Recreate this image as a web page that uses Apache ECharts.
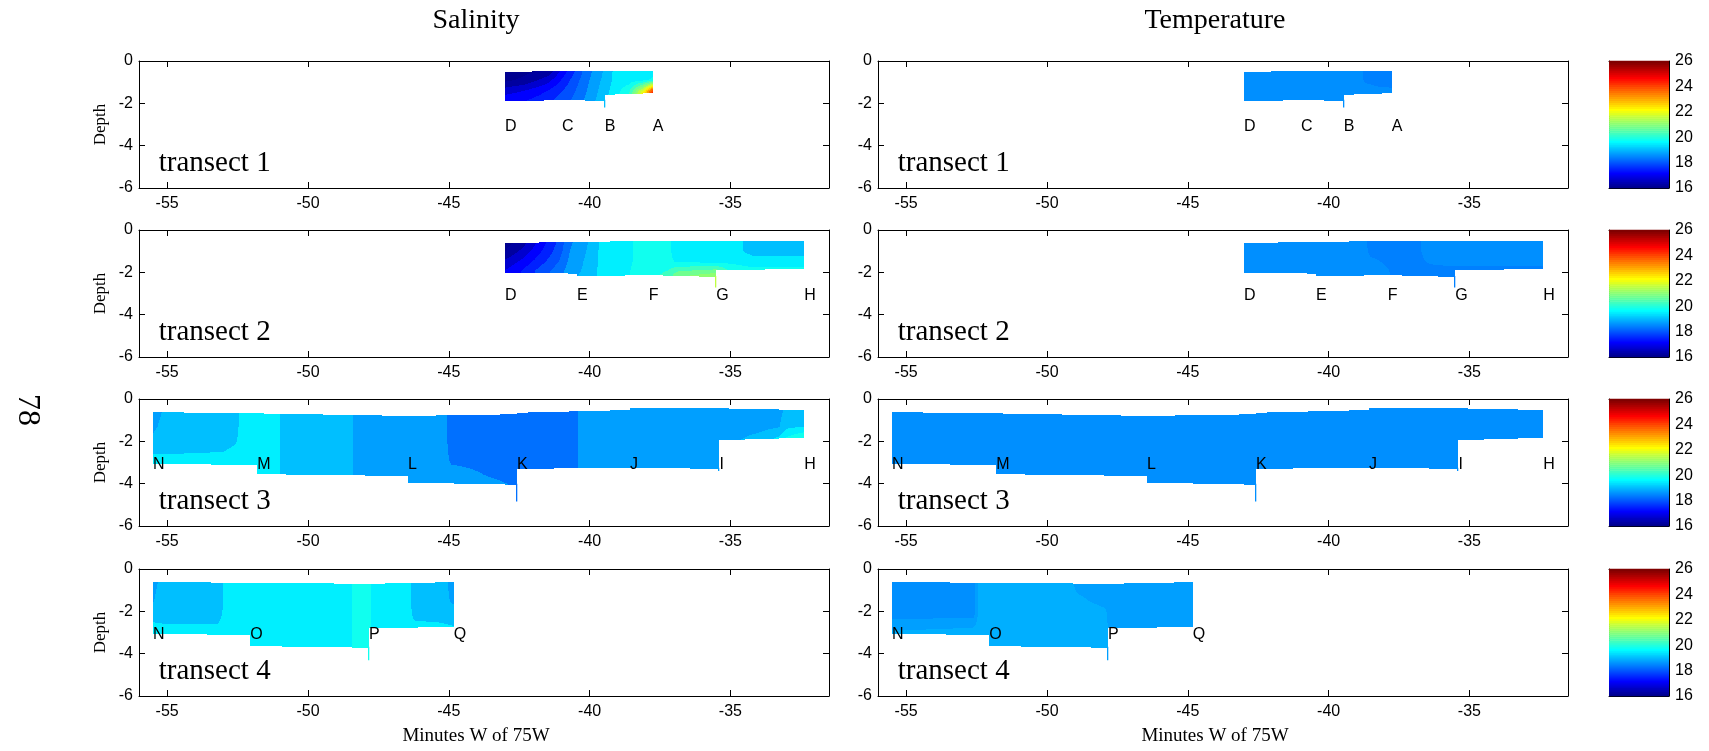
<!DOCTYPE html>
<html>
<head>
<meta charset="utf-8">
<script src="https://cdn.jsdelivr.net/npm/echarts@6/dist/echarts.min.js"></script>
<style>
html, body { margin: 0; padding: 0; background: #fff; }
#chart { width: 1709px; height: 751px; }
</style>
</head>
<body>
<div id="chart"></div>
<script>
// ---------- axes ----------
const xTicks = [-55, -50, -45, -40, -35];
const xRange = [-56, -31.5];
const depthRange = [-6, 0];
const colorRange = [16, 26];
const labelDepth = -3.1;           // depth of the station letters
const transectLabelPos = [-55.3, -4.85];

// ---------- station geometry ----------
// per interval between neighbouring stations: [depth at left station, depth at right station]
const t1Names = ['D', 'C', 'B', 'A'];
const t1X = [-43, -40.98, -39.46, -37.76];
const t1Top = [[-0.52, -0.47], [-0.47, -0.47], [-0.47, -0.47]];
const t1Bottom = [[-1.9, -1.85], [-1.85, -1.88], [-1.6, -1.52]];
const t1Cast = [null, null, -2.2, null];

const t2Names = ['D', 'E', 'F', 'G', 'H'];
const t2X = [-43, -40.45, -37.9, -35.5, -32.38];
const t2Top = [[-0.6, -0.58], [-0.58, -0.5], [-0.5, -0.5], [-0.5, -0.5]];
const t2Bottom = [[-2.02, -2.06], [-2.19, -2.13], [-2.13, -2.22], [-1.91, -1.83]];
const t2Cast = [null, null, null, -2.72, null];

const t3Names = ['N', 'M', 'L', 'K', 'J', 'I', 'H'];
const t3X = [-55.5, -51.8, -46.45, -42.58, -38.57, -35.39, -32.38];
const t3Top = [[-0.62, -0.68], [-0.68, -0.8], [-0.8, -0.72], [-0.65, -0.52], [-0.44, -0.44], [-0.44, -0.52]];
const t3Bottom = [[-3.05, -3.13], [-3.55, -3.64], [-3.95, -4.05], [-3.3, -3.25], [-3.25, -3.3], [-1.95, -1.83]];
const t3Cast = [null, null, null, -4.84, null, -3.4, null];

const t4Names = ['N', 'O', 'P', 'Q'];
const t4X = [-55.5, -52.05, -47.83, -44.82];
const t4Top = [[-0.62, -0.65], [-0.65, -0.7], [-0.7, -0.62]];
const t4Bottom = [[-3.05, -3.13], [-3.64, -3.72], [-2.81, -2.73]];
const t4Cast = [null, null, -4.31, null];

// ---------- gridded salinity / temperature (rows = depth levels, columns = x nodes) ----------
const sal1X = [-43, -42.3, -41.5, -40.7, -40.1, -39.6, -39.1, -38.6, -38.1, -37.7];
const sal1Depth = [-0.4, -0.9, -1.4, -1.9, -2.3];
const sal1Val = [
  [16.0, 16.15, 16.3, 17.6, 18.5, 19.0, 19.6, 19.7, 19.7, 19.7],
  [16.2, 16.4, 16.9, 17.9, 18.6, 19.1, 19.6, 19.7, 19.8, 20.0],
  [16.9, 17.1, 17.5, 18.1, 18.7, 19.2, 19.7, 20.2, 22.0, 24.6],
  [17.4, 17.5, 17.8, 18.3, 18.8, 19.3, 19.8, 20.6, 23.5, 26.0],
  [17.4, 17.5, 17.8, 18.3, 18.8, 19.3, 19.8, 20.6, 23.5, 26.0]
];
const tem1X = [-43, -39.0, -38.7, -38.3, -37.7];
const tem1Depth = [-0.4, -0.9, -1.4, -1.9, -2.3];
const tem1Val = [
  [18.6, 18.6, 18.46, 18.44, 18.44],
  [18.6, 18.6, 18.47, 18.44, 18.44],
  [18.6, 18.6, 18.58, 18.54, 18.52],
  [18.6, 18.6, 18.6, 18.6, 18.6],
  [18.6, 18.6, 18.6, 18.6, 18.6]
];

const sal2X = [-43, -42.4, -41.8, -41.1, -40.7, -39.9, -39.6, -38.7, -38.4, -37.2, -36.9, -35.5, -35.0, -34.2, -32.3];
const sal2Depth = [-0.4, -1.0, -1.5, -1.9, -2.3, -2.8];
const sal2Val = [
  [16.0, 16.35, 17.1, 17.95, 18.6, 19.2, 19.6, 19.7, 19.95, 20.0, 19.7, 19.7, 19.7, 19.35, 19.35],
  [16.3, 16.8, 17.4, 18.1, 18.7, 19.25, 19.6, 19.7, 19.95, 20.0, 19.7, 19.7, 19.7, 19.35, 19.35],
  [16.8, 17.2, 17.7, 18.3, 18.8, 19.3, 19.6, 19.75, 19.95, 20.0, 19.85, 19.8, 19.8, 19.7, 19.7],
  [17.1, 17.5, 18.0, 18.5, 18.9, 19.3, 19.65, 19.8, 20.0, 20.3, 20.6, 20.8, 20.2, 20.0, 20.0],
  [17.2, 17.6, 18.1, 18.6, 19.0, 19.35, 19.7, 19.85, 20.0, 20.5, 21.2, 21.7, 20.4, 20.1, 20.1],
  [17.2, 17.6, 18.1, 18.6, 19.0, 19.35, 19.7, 19.85, 20.0, 20.5, 21.2, 21.7, 20.4, 20.1, 20.1]
];
const tem2X = [-43, -38.9, -38.5, -37.6, -36.9, -36.4, -35.5, -32.3];
const tem2Depth = [-0.4, -1.0, -1.5, -1.9, -2.3, -2.8];
const tem2Val = [
  [18.6, 18.6, 18.45, 18.45, 18.45, 18.6, 18.6, 18.6],
  [18.6, 18.6, 18.46, 18.45, 18.45, 18.58, 18.6, 18.6],
  [18.6, 18.6, 18.53, 18.45, 18.45, 18.52, 18.55, 18.55],
  [18.6, 18.6, 18.6, 18.46, 18.45, 18.45, 18.46, 18.46],
  [18.6, 18.6, 18.6, 18.48, 18.45, 18.45, 18.45, 18.45],
  [18.6, 18.6, 18.6, 18.48, 18.45, 18.45, 18.45, 18.45]
];

const sal3X = [-55.6, -55.0, -53.0, -52.6, -52.2, -51.1, -50.9, -48.5, -48.3, -45.2, -44.9, -43.6, -42.6, -40.5, -40.3, -35.4, -34.0, -33.3, -33.0, -32.3];
const sal3Depth = [-0.4, -1.3, -2.0, -2.5, -3.0, -3.5, -4.0, -4.9];
const sal3Val = [
  [18.8, 19.2, 19.3, 19.4, 19.7, 19.7, 19.3, 19.3, 18.9, 18.9, 18.5, 18.5, 18.5, 18.5, 18.9, 18.9, 18.9, 18.9, 19.2, 19.3],
  [18.95, 19.3, 19.3, 19.4, 19.7, 19.7, 19.3, 19.3, 18.9, 18.9, 18.5, 18.5, 18.5, 18.5, 18.9, 18.9, 18.95, 19.05, 19.4, 19.5],
  [19.2, 19.3, 19.35, 19.45, 19.7, 19.7, 19.3, 19.3, 18.9, 18.9, 18.5, 18.5, 18.5, 18.5, 18.9, 18.9, 19.3, 19.7, 20.1, 20.6],
  [19.45, 19.45, 19.5, 19.6, 19.7, 19.7, 19.3, 19.3, 18.9, 18.9, 18.55, 18.5, 18.5, 18.5, 18.9, 18.9, 19.3, 19.7, 20.1, 20.6],
  [19.7, 19.7, 19.7, 19.75, 19.7, 19.7, 19.3, 19.3, 18.9, 18.9, 18.65, 18.55, 18.5, 18.5, 18.9, 18.9, 19.3, 19.7, 20.1, 20.6],
  [19.7, 19.7, 19.7, 19.75, 19.7, 19.7, 19.3, 19.3, 18.9, 18.9, 18.9, 18.65, 18.55, 18.5, 18.9, 18.9, 19.3, 19.7, 20.1, 20.6],
  [19.7, 19.7, 19.7, 19.75, 19.7, 19.7, 19.3, 19.3, 18.9, 18.9, 18.9, 18.8, 18.65, 18.5, 18.9, 18.9, 19.3, 19.7, 20.1, 20.6],
  [19.7, 19.7, 19.7, 19.75, 19.7, 19.7, 19.3, 19.3, 18.9, 18.9, 18.9, 18.9, 18.7, 18.5, 18.9, 18.9, 19.3, 19.7, 20.1, 20.6]
];
const tem3X = [-56, -32];
const tem3Depth = [-0.3, -5];
const tem3Val = [
  [18.58, 18.58],
  [18.58, 18.58]
];

const sal4X = [-55.6, -55.2, -53.2, -52.8, -48.6, -48.4, -47.8, -47.6, -46.5, -46.2, -45.3, -44.8];
const sal4Depth = [-0.5, -1.5, -2.2, -2.7, -3.2, -3.8, -4.4];
const sal4Val = [
  [18.85, 19.2, 19.3, 19.7, 19.7, 19.95, 19.95, 19.7, 19.7, 19.3, 19.3, 18.9],
  [19.0, 19.3, 19.3, 19.7, 19.7, 19.95, 19.95, 19.7, 19.7, 19.3, 19.3, 19.0],
  [19.35, 19.35, 19.4, 19.7, 19.7, 19.95, 19.95, 19.7, 19.7, 19.4, 19.4, 19.35],
  [19.6, 19.55, 19.52, 19.7, 19.7, 19.95, 19.95, 19.7, 19.7, 19.6, 19.55, 19.5],
  [19.7, 19.7, 19.7, 19.7, 19.7, 19.95, 19.95, 19.7, 19.7, 19.7, 19.7, 19.7],
  [19.7, 19.7, 19.7, 19.7, 19.7, 19.95, 19.95, 19.7, 19.7, 19.7, 19.7, 19.7],
  [19.7, 19.7, 19.7, 19.7, 19.7, 19.95, 19.95, 19.7, 19.7, 19.7, 19.7, 19.7]
];
const tem4X = [-55.6, -52.6, -52.4, -49.3, -48.9, -48.2, -47.95, -47.75, -44.8];
const tem4Depth = [-0.5, -1.5, -2.2, -2.7, -3.2, -3.8, -4.4];
const tem4Val = [
  [18.58, 18.58, 18.9, 18.9, 18.73, 18.73, 18.73, 18.73, 18.73],
  [18.58, 18.58, 18.9, 18.9, 18.85, 18.78, 18.75, 18.73, 18.73],
  [18.6, 18.62, 18.9, 18.9, 18.9, 18.9, 18.88, 18.73, 18.73],
  [18.75, 18.8, 18.9, 18.9, 18.9, 18.9, 18.9, 18.73, 18.73],
  [18.9, 18.9, 18.9, 18.9, 18.9, 18.9, 18.9, 18.73, 18.73],
  [18.9, 18.9, 18.9, 18.9, 18.9, 18.9, 18.9, 18.73, 18.73],
  [18.9, 18.9, 18.9, 18.9, 18.9, 18.9, 18.9, 18.73, 18.73]
];

// contour levels: salinity every 0.4, temperature at colormap resolution
const salLevels = { base: 16.3, step: 0.4 };
const temLevels = { base: 16, step: 10 / 64 };

// ---------- helpers ----------
const SANS = '"Liberation Sans", Arial, Helvetica, sans-serif';
const SERIF = '"Liberation Serif", "Times New Roman", Times, serif';

// MATLAB-style jet colormap
function jetMap(m) {
  const n = Math.ceil(m / 4);
  const u = [];
  for (let i = 1; i <= n; i++) u.push(i / n);
  for (let i = 1; i < n; i++) u.push(1);
  for (let i = n; i >= 1; i--) u.push(i / n);
  const g0 = Math.ceil(n / 2) - (m % 4 === 1 ? 1 : 0);
  const r = new Array(m).fill(0), g = new Array(m).fill(0), b = new Array(m).fill(0);
  u.forEach((val, k) => {
    const gi = g0 + k + 1;
    if (gi <= m) g[gi - 1] = val;
    if (gi + n <= m) r[gi + n - 1] = val;
    if (gi - n >= 1) b[gi - n - 1] = val;
  });
  return r.map((_, i) => 'rgb(' + Math.round(r[i] * 255) + ',' + Math.round(g[i] * 255) + ',' + Math.round(b[i] * 255) + ')');
}
const jet = jetMap(64);

function colorIndex(v) {
  const idx = Math.floor((v - colorRange[0]) / (colorRange[1] - colorRange[0]) * jet.length + 1e-9);
  return Math.max(0, Math.min(jet.length - 1, idx));
}

function makeField(xs, ds, vals, levels) {
  function valueAt(x, d) {
    let i, tx, j, ty;
    const nx = xs.length, nd = ds.length;
    if (x <= xs[0]) { i = 0; tx = 0; }
    else if (x >= xs[nx - 1]) { i = nx - 2; tx = 1; }
    else { i = 0; while (xs[i + 1] < x) i++; tx = (x - xs[i]) / (xs[i + 1] - xs[i]); }
    if (d >= ds[0]) { j = 0; ty = 0; }
    else if (d <= ds[nd - 1]) { j = nd - 2; ty = 1; }
    else { j = 0; while (ds[j + 1] > d) j++; ty = (ds[j] - d) / (ds[j] - ds[j + 1]); }
    const a = vals[j][i] * (1 - tx) + vals[j][i + 1] * tx;
    const b = vals[j + 1][i] * (1 - tx) + vals[j + 1][i + 1] * tx;
    return a * (1 - ty) + b * ty;
  }
  function colorAt(x, d) {
    const v = valueAt(x, d);
    const level = levels.base + Math.floor((v - levels.base) / levels.step + 1e-9) * levels.step;
    return jet[colorIndex(level + 1e-9)];
  }
  return { valueAt, colorAt };
}

const transects = [
  { names: t1Names, x: t1X, top: t1Top, bottom: t1Bottom, cast: t1Cast, label: 'transect 1' },
  { names: t2Names, x: t2X, top: t2Top, bottom: t2Bottom, cast: t2Cast, label: 'transect 2' },
  { names: t3Names, x: t3X, top: t3Top, bottom: t3Bottom, cast: t3Cast, label: 'transect 3' },
  { names: t4Names, x: t4X, top: t4Top, bottom: t4Bottom, cast: t4Cast, label: 'transect 4' }
];
const fields = [
  [makeField(sal1X, sal1Depth, sal1Val, salLevels), makeField(tem1X, tem1Depth, tem1Val, temLevels)],
  [makeField(sal2X, sal2Depth, sal2Val, salLevels), makeField(tem2X, tem2Depth, tem2Val, temLevels)],
  [makeField(sal3X, sal3Depth, sal3Val, salLevels), makeField(tem3X, tem3Depth, tem3Val, temLevels)],
  [makeField(sal4X, sal4Depth, sal4Val, salLevels), makeField(tem4X, tem4Depth, tem4Val, temLevels)]
];

// ---------- layout ----------
const plotLeft = [139, 878];
const plotWidth = 690;
const rowTop = [61, 230, 399, 569];
const plotHeight = 127;
const barLeft = 1609;
const barWidth = 60;
const headingShift = -8;

// filled section, rasterised column by column through the axis scales
function fillRenderer(T, F) {
  return function (params, api) {
    const i = params.dataIndex;
    const x0 = T.x[i], x1 = T.x[i + 1];
    const a0 = T.top[i][0], a1 = T.top[i][1];
    const b0 = T.bottom[i][0], b1 = T.bottom[i][1];
    const o = api.coord([x0, 0]);
    const X0 = o[0], Y0 = o[1];
    const X1 = api.coord([x1, 0])[0];
    const unitY = api.coord([x0, -1])[1] - Y0;
    const paths = {};
    const push = (c, px, py, h) => { paths[c] = (paths[c] || '') + 'M' + px + ' ' + py + 'h1v' + h + 'h-1Z'; };
    const pxEnd = Math.round(X1);
    for (let px = Math.round(X0); px < pxEnd; px++) {
      const f = (px + 0.5 - X0) / (X1 - X0);
      const x = x0 + f * (x1 - x0);
      const top = a0 + f * (a1 - a0), bot = b0 + f * (b1 - b0);
      const yT = Math.round(Y0 - top * unitY), yB = Math.round(Y0 - bot * unitY);
      let run = null, start = yT;
      for (let py = yT; py < yB; py++) {
        const d = -(py + 0.5 - Y0) / unitY;
        const c = F.colorAt(x, d);
        if (c !== run) {
          if (run) push(run, px, start, py - start);
          run = c; start = py;
        }
      }
      if (run) push(run, px, start, yB - start);
    }
    return {
      type: 'group',
      children: Object.keys(paths).map(c => ({
        type: 'path', shape: { pathData: paths[c] }, style: { fill: c, stroke: null }
      }))
    };
  };
}

// station letters, cast lines and transect name
function annotationRenderer(T, F) {
  return function (params, api) {
    const i = params.dataIndex;
    const children = [];
    const p = api.coord([T.x[i], labelDepth]);
    children.push({
      type: 'text', x: p[0], y: p[1], z2: 5,
      style: { text: T.names[i], fill: '#000', fontSize: 16, fontFamily: SANS, align: 'left', verticalAlign: 'middle' }
    });
    if (T.cast[i] != null) {
      const left = i > 0 ? T.bottom[i - 1][1] : 0;
      const right = i < T.bottom.length ? T.bottom[i][0] : 0;
      const from = Math.min(left, right);
      const a = api.coord([T.x[i], from]);
      const b = api.coord([T.x[i], T.cast[i]]);
      children.push({
        type: 'rect',
        shape: { x: Math.round(a[0]) - 1, y: a[1] - 1, width: 1.3, height: b[1] - a[1] + 1 },
        style: { fill: F.colorAt(T.x[i], T.cast[i] + 0.05) }
      });
    }
    if (i === 0) {
      const q = api.coord(transectLabelPos);
      children.push({
        type: 'text', x: q[0], y: q[1],
        style: { text: T.label, fill: '#000', fontSize: 29, fontFamily: SERIF, align: 'left', verticalAlign: 'middle' }
      });
    }
    return { type: 'group', children };
  };
}

function colorbarRenderer(params, api) {
  const i = params.dataIndex;
  const step = (colorRange[1] - colorRange[0]) / jet.length;
  const lo = colorRange[0] + i * step, hi = lo + step;
  const p0 = api.coord([0, hi]), p1 = api.coord([1, lo]);
  return {
    type: 'rect',
    shape: { x: p0[0], y: p0[1] - 0.3, width: p1[0] - p0[0], height: p1[1] - p0[1] + 0.6 },
    style: { fill: jet[i] }
  };
}

const black = { color: '#000', width: 1 };
const grids = [], xAxes = [], yAxes = [], series = [];

for (let r = 0; r < 4; r++) {
  for (let c = 0; c < 2; c++) {
    const g = grids.length;
    grids.push({ left: plotLeft[c], top: rowTop[r], width: plotWidth, height: plotHeight, outerBoundsMode: 'none', containLabel: false });
    const bottomX = {
      gridIndex: g, type: 'value', min: xRange[0], max: xRange[1], position: 'bottom',
      axisLine: { show: true, onZero: false, lineStyle: black },
      axisTick: { show: true, inside: true, length: 6, customValues: xTicks, lineStyle: black },
      axisLabel: { show: true, customValues: xTicks, color: '#000', fontSize: 16, fontFamily: SANS, margin: 8 },
      splitLine: { show: false }
    };
    if (r === 3) {
      bottomX.name = 'Minutes W of 75W';
      bottomX.nameLocation = 'middle';
      bottomX.nameGap = 31;
      bottomX.nameTextStyle = { color: '#000', fontSize: 19, fontFamily: SERIF, padding: [0, -2 * headingShift, 0, 0] };
    }
    xAxes.push(bottomX);
    xAxes.push({
      gridIndex: g, type: 'value', min: xRange[0], max: xRange[1], position: 'top',
      axisLine: { show: true, onZero: false, lineStyle: black },
      axisTick: { show: true, inside: true, length: 6, customValues: xTicks, lineStyle: black },
      axisLabel: { show: false }, splitLine: { show: false }
    });
    const leftY = {
      gridIndex: g, type: 'value', min: depthRange[0], max: depthRange[1], interval: 2, position: 'left',
      axisLine: { show: true, onZero: false, lineStyle: black },
      axisTick: { show: true, inside: true, length: 6, lineStyle: black },
      axisLabel: { show: true, color: '#000', fontSize: 16, fontFamily: SANS, margin: 6 },
      splitLine: { show: false }
    };
    if (c === 0) {
      leftY.name = 'Depth';
      leftY.nameLocation = 'middle';
      leftY.nameRotate = 90;
      leftY.nameGap = 30;
      leftY.nameTextStyle = { color: '#000', fontSize: 17, fontFamily: SERIF };
    }
    yAxes.push(leftY);
    yAxes.push({
      gridIndex: g, type: 'value', min: depthRange[0], max: depthRange[1], interval: 2, position: 'right',
      axisLine: { show: true, onZero: false, lineStyle: black },
      axisTick: { show: true, inside: true, length: 6, lineStyle: black },
      axisLabel: { show: false }, splitLine: { show: false }
    });
    const T = transects[r], F = fields[r][c];
    series.push({
      type: 'custom', coordinateSystem: 'cartesian2d', xAxisIndex: 2 * g, yAxisIndex: 2 * g,
      data: T.top.map((t, i) => [T.x[i], t[0]]),
      renderItem: fillRenderer(T, F), silent: true, z: 2
    });
    series.push({
      type: 'custom', coordinateSystem: 'cartesian2d', xAxisIndex: 2 * g, yAxisIndex: 2 * g,
      data: T.x.map(x => [x, labelDepth]),
      renderItem: annotationRenderer(T, F), silent: true, z: 3
    });
  }
}

// colour bars, one per row
for (let r = 0; r < 4; r++) {
  const g = grids.length;
  grids.push({ left: barLeft, top: rowTop[r], width: barWidth, height: plotHeight, outerBoundsMode: 'none', containLabel: false });
  xAxes.push({
    gridIndex: g, type: 'value', min: 0, max: 1, position: 'bottom',
    axisLine: { show: true, onZero: false, lineStyle: black }, axisTick: { show: false }, axisLabel: { show: false }, splitLine: { show: false }
  });
  xAxes.push({
    gridIndex: g, type: 'value', min: 0, max: 1, position: 'top',
    axisLine: { show: true, onZero: false, lineStyle: black }, axisTick: { show: false }, axisLabel: { show: false }, splitLine: { show: false }
  });
  yAxes.push({
    gridIndex: g, type: 'value', min: colorRange[0], max: colorRange[1], interval: 2, position: 'left',
    axisLine: { show: true, onZero: false, lineStyle: black },
    axisTick: { show: true, inside: true, length: 4, lineStyle: black },
    axisLabel: { show: false }, splitLine: { show: false }
  });
  yAxes.push({
    gridIndex: g, type: 'value', min: colorRange[0], max: colorRange[1], interval: 2, position: 'right',
    axisLine: { show: true, onZero: false, lineStyle: black },
    axisTick: { show: true, inside: true, length: 4, lineStyle: black },
    axisLabel: { show: true, color: '#000', fontSize: 16, fontFamily: SANS, margin: 6 },
    splitLine: { show: false }
  });
  series.push({
    type: 'custom', coordinateSystem: 'cartesian2d', xAxisIndex: xAxes.length - 2, yAxisIndex: yAxes.length - 2,
    data: jet.map((_, i) => [0, colorRange[0] + i * (colorRange[1] - colorRange[0]) / jet.length]),
    renderItem: colorbarRenderer, silent: true, z: 1
  });
}

const chart = echarts.init(document.getElementById('chart'), null, { renderer: 'canvas' });
chart.setOption({
  animation: false,
  backgroundColor: '#fff',
  grid: grids,
  xAxis: xAxes,
  yAxis: yAxes,
  series: series,
  graphic: [
    { type: 'text', x: plotLeft[0] + plotWidth / 2 + headingShift, y: 21, style: { text: 'Salinity', fill: '#000', fontSize: 28, fontFamily: SERIF, align: 'center', verticalAlign: 'middle' } },
    { type: 'text', x: plotLeft[1] + plotWidth / 2 + headingShift, y: 21, style: { text: 'Temperature', fill: '#000', fontSize: 28, fontFamily: SERIF, align: 'center', verticalAlign: 'middle' } },
    { type: 'text', x: 27, y: 410, rotation: -Math.PI / 2, style: { text: '78', fill: '#000', fontSize: 32, fontFamily: SERIF, align: 'center', verticalAlign: 'middle' } }
  ]
});
</script>
</body>
</html>
